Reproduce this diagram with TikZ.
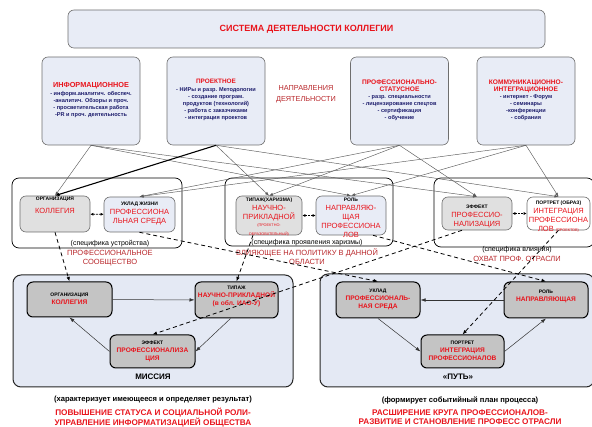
\documentclass[tikz,border=0pt]{standalone}
\usepackage{fontspec}
\setmainfont{Liberation Sans}
\usetikzlibrary{arrows.meta}

\definecolor{boxfill}{HTML}{E8ECF6}
\definecolor{framefill}{HTML}{E4E9F4}
\definecolor{hdred}{HTML}{E8141C}
\definecolor{dkred}{HTML}{B8262A}
\definecolor{navy}{HTML}{1C1C6C}
\definecolor{grayA}{HTML}{E0E0E0}
\definecolor{grayB}{HTML}{C4C4C4}
\definecolor{edgegray}{HTML}{6E6E6E}
\definecolor{linkgray}{HTML}{5A5A5A}

\newcommand{\fsz}[2]{\fontsize{#1}{#2}\selectfont}
\newcommand{\capsm}{\color{black}\bfseries\fsz{5}{6}}

\tikzset{
  dirbox/.style={draw=edgegray, fill=boxfill, rounded corners=6pt, line width=0.6pt,
    minimum width=98pt, minimum height=88pt, inner sep=0pt},
  titlebox/.style={draw=edgegray, fill=boxfill, rounded corners=6pt, line width=0.6pt,
    minimum width=477pt, minimum height=38pt, inner sep=0pt},
  grpframe/.style={draw=black, fill=white, rounded corners=7pt, line width=0.7pt, inner sep=0pt},
  lowframe/.style={draw=black!85, fill=framefill, rounded corners=8pt, line width=1pt, inner sep=0pt},
  midgray/.style={draw=edgegray, fill=grayA, rounded corners=6pt, line width=0.6pt, inner sep=0pt},
  midblue/.style={draw=edgegray, fill=boxfill, rounded corners=6pt, line width=0.6pt, inner sep=0pt},
  midwhite/.style={draw=edgegray, fill=white, rounded corners=6pt, line width=0.6pt, inner sep=0pt},
  lowbox/.style={draw=black, fill=grayB, rounded corners=6pt, line width=1pt, inner sep=0pt},
  txt/.style={align=center, inner sep=0pt},
  dirtxt/.style={txt, text=navy, font=\bfseries\fsz{5.6}{7}},
  midtxt/.style={txt, text=hdred, font=\fsz{7.5}{9}},
  lowtxt/.style={txt, text=hdred, font=\bfseries\fsz{6.6}{8}},
  grplabel/.style={txt, text=dkred, font=\fsz{7.5}{8.6}},
  grpnote/.style={txt, text=black, font=\fsz{7}{8}},
  feed/.style={draw=linkgray, line width=0.45pt, -{Latex[length=4pt,width=3pt]}},
  feedbold/.style={draw=black, line width=1.1pt, -{Latex[length=4.5pt,width=3.5pt]}},
  pair/.style={draw=black, line width=0.7pt, dash pattern=on 2pt off 1pt,
    {Latex[length=3pt,width=3pt]}-{Latex[length=3pt,width=3pt]}},
  transfer/.style={draw=black, line width=0.8pt, dash pattern=on 4pt off 3pt,
    -{Latex[length=4.5pt,width=3.5pt]}},
  cycle/.style={draw=black!80, line width=0.5pt, -{Latex[length=5pt,width=3.5pt]}},
}

\begin{document}
\begin{tikzpicture}[x=1pt,y=-1pt]
\useasboundingbox (0,0) rectangle (592,427);

% ---- heading ----
\node[titlebox] (title) at (306.5,29) {};
\node[txt, text=hdred, font=\bfseries\fsz{9}{10}] (titletxt) at (title) {СИСТЕМА ДЕЯТЕЛЬНОСТИ КОЛЛЕГИИ};

% ---- directions of activity ----
\node[dirbox] (dirA) at (91,101) {};
\node[dirtxt] (dirAtxt) at (91,100) {{\color{hdred}\fsz{7.3}{9}ИНФОРМАЦИОННОЕ}\\[1pt]
  - информ.аналитич. обеспеч.\\-аналитич. Обзоры и проч.\\- просветительская работа\\-PR и проч. деятельность};

\node[dirbox] (dirB) at (216,101) {};
\node[dirtxt] (dirBtxt) at (216,100) {{\color{hdred}\fsz{6.4}{8}ПРОЕКТНОЕ}\\[1pt]
  - НИРы и разр. Методологии\\- создание програм.\\продуктов (технологий)\\- работа с заказчиками\\- интеграция проектов};

\node[dirbox] (dirC) at (399.5,101) {};
\node[dirtxt] (dirCtxt) at (399.5,100) {{\color{hdred}\fsz{6.6}{8}ПРОФЕССИОНАЛЬНО-}\\{\color{hdred}\fsz{6.6}{8}СТАТУСНОЕ}\\
  - разр. специальности\\- лицензирование спецтов\\- сертификация\\- обучение};

\node[dirbox] (dirD) at (526,101) {};
\node[dirtxt] (dirDtxt) at (526,100) {{\color{hdred}\fsz{6.6}{8}КОММУНИКАЦИОННО-}\\{\color{hdred}\fsz{6.6}{8}ИНТЕГРАЦИОННОЕ}\\
  - интернет - Форум\\- семинары\\-конференции\\- собрания};

\node[txt, text=dkred, font=\fsz{7.3}{11}] (dirlabel) at (306,94) {НАПРАВЛЕНИЯ\\ДЕЯТЕЛЬНОСТИ};

% ---- middle groups ----
\node[grpframe, minimum width=170pt, minimum height=70pt] (grpA) at (97,213) {};
\node[grpframe, minimum width=168pt, minimum height=68pt] (grpB) at (309,212) {};
\node[grpframe, minimum width=160pt, minimum height=69pt] (grpC) at (514,212.5) {};

\node[midgray, minimum width=70pt, minimum height=36pt] (orgM) at (55,214) {};
\node[txt] (orgMtxt) at (55,205.5) {{\capsm ОРГАНИЗАЦИЯ}\\[0.5pt]{\color{hdred}\fsz{7.5}{9}КОЛЛЕГИЯ}};
\node[midblue, minimum width=71pt, minimum height=35pt] (ukladM) at (139.5,214.5) {};
\node[midtxt] (ukladMtxt) at (139.5,213.5) {{\capsm УКЛАД ЖИЗНИ}\\ПРОФЕССИОНА\\ЛЬНАЯ СРЕДА};

\node[midgray, minimum width=66pt, minimum height=39pt] (tipM) at (269,215.5) {};
\node[midtxt] (tipMtxt) at (269,217) {{\capsm ТИПАЖ(ХАРИЗМА)}\\НАУЧНО-\\ПРИКЛАДНОЙ\\[-2pt]{\fsz{3.8}{4}(ПРОЕКТНО-}\\{\fsz{3.8}{4}ОБРАЗОВАТЕЛЬНЫЙ)}};
\node[midblue, minimum width=70pt, minimum height=39pt] (rolM) at (351,215.5) {};
\node[midtxt] (rolMtxt) at (351,217.5) {{\capsm РОЛЬ}\\НАПРАВЛЯЮ-\\ЩАЯ\\ПРОФЕССИОНА\\ЛОВ};

\node[midgray, minimum width=70pt, minimum height=33pt] (effM) at (477,213.5) {};
\node[midtxt] (effMtxt) at (477,216.5) {{\capsm ЭФФЕКТ}\\ПРОФЕССИО-\\НАЛИЗАЦИЯ};
\node[midwhite, minimum width=63pt, minimum height=33pt] (portM) at (558.5,213.5) {};
\node[midtxt] (portMtxt) at (558.5,216.5) {{\capsm ПОРТРЕТ (ОБРАЗ)}\\ИНТЕГРАЦИЯ\\ПРОФЕССИОНА\\ЛОВ {\fsz{3.8}{4}(ПРОЕКТОВ)}};

\draw[pair] (orgM) -- (ukladM);
\draw[pair] (tipM) -- (rolM);
\draw[pair] (effM) -- (portM);

\node[grpnote] (noteA) at (110,244) {(специфика устройства)};
\node[grplabel] (labA) at (110,258) {ПРОФЕССИОНАЛЬНОЕ\\СООБЩЕСТВО};
\node[grpnote] (noteB) at (307,243) {(специфика проявления харизмы)};
\node[grplabel] (labB) at (307,256.5) {ВЛИЯЮЩЕЕ НА ПОЛИТИКУ В ДАННОЙ\\ОБЛАСТИ};
\node[grpnote] (noteC) at (517,250) {(специфика влияния)};
\node[grplabel] (labC) at (517,258.5) {ОХВАТ ПРОФ. ОТРАСЛИ};

% ---- links from directions to the middle groups ----
\draw[feed] (dirA.south) -- (orgM.north);
\draw[feed] (dirA.south) -- (rolM.north);
\draw[feed] (dirA.south) -- (effM.north);
\draw[feedbold] (dirB.south) -- (orgM.north);
\draw[feed] (dirB.south) -- (tipM.north);
\draw[feed] (dirB.south) -- (portM.north);
\draw[feed] (dirC.south) -- (ukladM.north);
\draw[feed] (dirC.south) -- (tipM.north);
\draw[feed] (dirC.south) -- (effM.north);
\draw[feed] (dirD.south) -- (ukladM.north);
\draw[feed] (dirD.south) -- (rolM.north);
\draw[feed] (dirD.south) -- (portM.north);

% ---- lower frames: mission and path ----
\node[lowframe, minimum width=280pt, minimum height=112pt] (mission) at (153,331) {};
\node[lowframe, minimum width=274pt, minimum height=113pt] (path) at (457,330.5) {};

\node[lowbox, minimum width=85pt, minimum height=35pt] (orgB) at (69.5,299.5) {};
\node[lowtxt] (orgBtxt) at (69.5,299) {{\capsm ОРГАНИЗАЦИЯ}\\КОЛЛЕГИЯ};
\node[lowbox, minimum width=83pt, minimum height=36pt] (tipB) at (236.5,300) {};
\node[lowtxt] (tipBtxt) at (236.5,296) {{\capsm ТИПАЖ}\\НАУЧНО-ПРИКЛАДНОЙ\\(в обл. ИАО-У)};
\node[lowbox, minimum width=85pt, minimum height=33pt] (effB) at (152.5,351.5) {};
\node[lowtxt] (effBtxt) at (152.5,351) {{\capsm ЭФФЕКТ}\\ПРОФЕССИОНАЛИЗА\\ЦИЯ};
\node[txt, font=\bfseries\fsz{8}{9}] (missiontxt) at (153,377) {МИССИЯ};

\node[lowbox, minimum width=84pt, minimum height=36pt] (ukladB) at (378,300) {};
\node[lowtxt] (ukladBtxt) at (378,299) {{\capsm УКЛАД}\\ПРОФЕССИОНАЛЬ-\\НАЯ СРЕДА};
\node[lowbox, minimum width=84pt, minimum height=36pt] (rolB) at (546,300) {};
\node[lowtxt] (rolBtxt) at (546,296) {{\capsm РОЛЬ}\\НАПРАВЛЯЮЩАЯ};
\node[lowbox, minimum width=83pt, minimum height=33pt] (portB) at (462.5,351.5) {};
\node[lowtxt] (portBtxt) at (462.5,351) {{\capsm ПОРТРЕТ}\\ИНТЕГРАЦИЯ\\ПРОФЕССИОНАЛОВ};
\node[txt, font=\bfseries\fsz{8}{9}] (pathtxt) at (458,377) {«ПУТЬ»};

\draw[cycle] (orgB) -- (tipB);
\draw[cycle] ([xshift=-6pt]tipB.south) -- (effB.east);
\draw[cycle] (effB.west) -- (orgB.south);
\draw[cycle] (rolB) -- (ukladB);
\draw[cycle] (ukladB.south) -- (portB.west);
\draw[cycle] (portB.east) -- (rolB.south);

% ---- transfers from the middle groups down ----
\draw[transfer] (orgM.south) -- (orgB.north);
\draw[transfer] (ukladM.south) -- (ukladB.north);
\draw[transfer] ([xshift=-16pt]tipM.south) -- (tipB.north);
\draw[transfer] ([xshift=22pt]rolM.south) -- (rolB.north);
\draw[transfer] ([xshift=-15pt]effM.south) -- (effB.north);
\draw[transfer] (portM.south) -- (portB.north);

% ---- conclusions ----
\node[txt, text=black, font=\bfseries\fsz{7.6}{9}] (resA) at (153,400) {(характеризует имеющееся и определяет результат)};
\node[txt, text=hdred, font=\bfseries\fsz{8.2}{9}] (goalA) at (153,417.5) {ПОВЫШЕНИЕ СТАТУСА И СОЦИАЛЬНОЙ РОЛИ-\\УПРАВЛЕНИЕ ИНФОРМАТИЗАЦИЕЙ ОБЩЕСТВА};
\node[txt, text=black, font=\bfseries\fsz{7.6}{9}] (resB) at (460,400) {(формирует событийный план процесса)};
\node[txt, text=hdred, font=\bfseries\fsz{8.2}{9}] (goalB) at (460,417.5) {РАСШИРЕНИЕ КРУГА ПРОФЕССИОНАЛОВ-\\РАЗВИТИЕ И СТАНОВЛЕНИЕ ПРОФЕСС ОТРАСЛИ};
\end{tikzpicture}
\end{document}
